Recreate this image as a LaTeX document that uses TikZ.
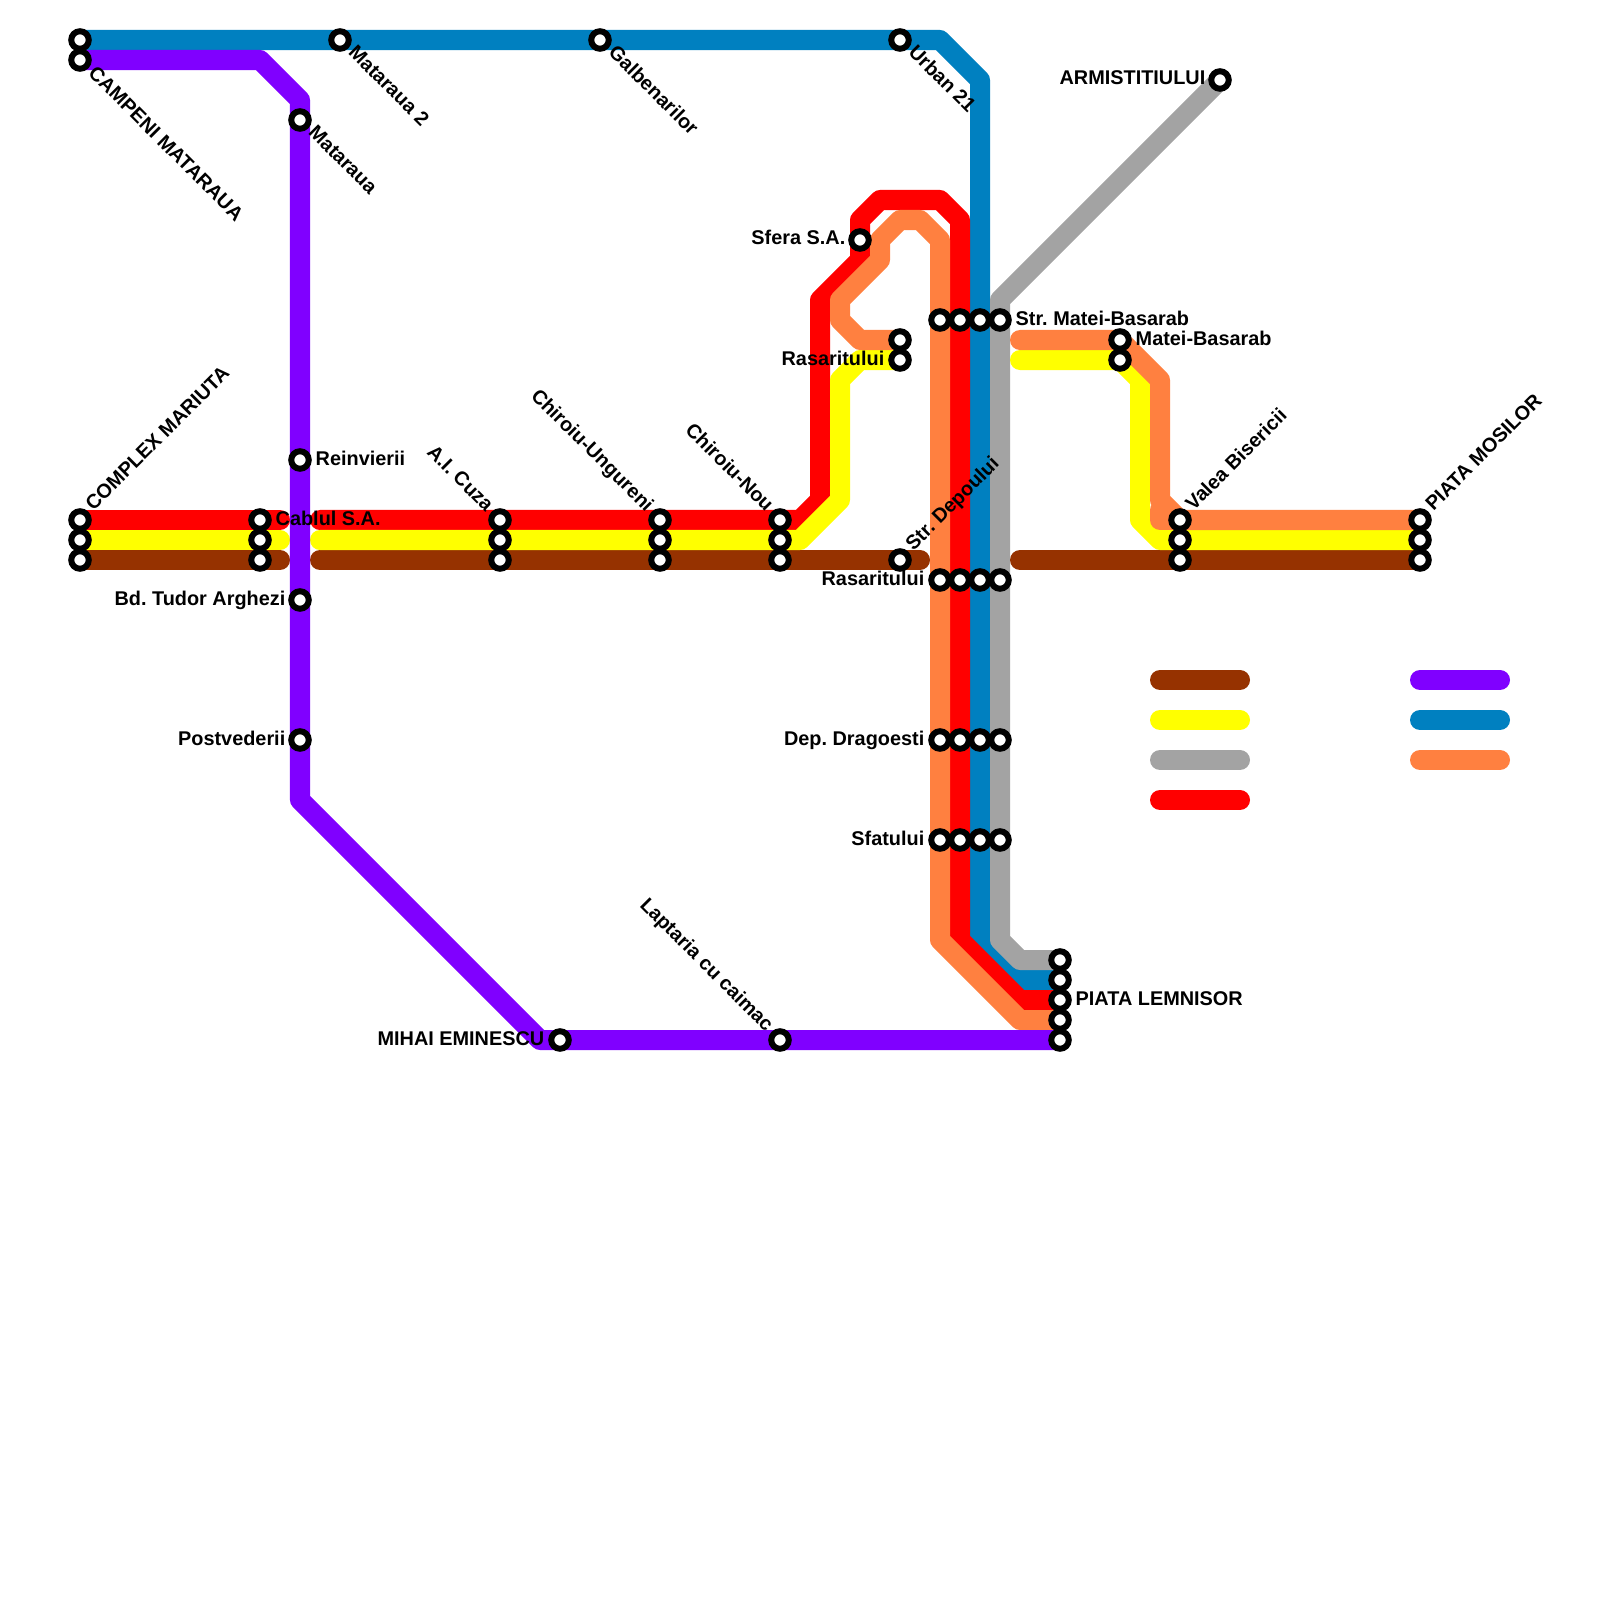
\documentclass[tikz,border=0pt]{standalone}
\usepackage{fontspec}
\setmainfont{Liberation Sans}
\usetikzlibrary{backgrounds}
\definecolor{mbrown}{HTML}{963200}
\definecolor{myellow}{HTML}{FFFF00}
\definecolor{mgray}{HTML}{A3A3A3}
\definecolor{mred}{HTML}{FF0000}
\definecolor{mpurple}{HTML}{8000FF}
\definecolor{mblue}{HTML}{0080C0}
\definecolor{morange}{HTML}{FF8040}
\begin{document}
\frenchspacing
\begin{tikzpicture}[
        x=0.01cm,y=-0.01cm,
        station/.style={circle,draw=black,fill=white,line width=0.6mm,inner sep=0pt,minimum size=1.75mm},
        metro/.style={line width=2mm,line cap=round,line join=round},
        stext/.style={font=\fontsize{5.65}{6}\selectfont\bfseries,inner sep=0pt},
        tright/.style={stext,anchor=base west},
        tleft/.style={stext,anchor=base east},
        tup/.style={stext,anchor=base west,rotate=45},
        tdown/.style={stext,anchor=base west,rotate=-45},
        tback/.style={stext,anchor=base east,rotate=-45},
    ]
    \useasboundingbox (0,0) rectangle (1600,1600);
    % stations
    \node [station] (s1) at (80,40) {};
    \node [station] (s2) at (80,60) {};
    \node [station] (s3) at (340,40) {};
    \node [station] (s4) at (600,40) {};
    \node [station] (s5) at (900,40) {};
    \node [station] (s6) at (300,120) {};
    \node [station] (s7) at (1220,80) {};
    \node [station] (s8) at (860,240) {};
    \node [station] (s9a) at (900,340) {};
    \node [station] (s9b) at (900,360) {};
    \node [station] (s10a) at (940,320) {};
    \node [station] (s10b) at (960,320) {};
    \node [station] (s10c) at (980,320) {};
    \node [station] (s10d) at (1000,320) {};
    \node [station] (s11a) at (1120,340) {};
    \node [station] (s11b) at (1120,360) {};
    \node [station] (s12) at (300,460) {};
    \node [station] (s13a) at (80,520) {};
    \node [station] (s13b) at (80,540) {};
    \node [station] (s13c) at (80,560) {};
    \node [station] (s14a) at (260,520) {};
    \node [station] (s14b) at (260,540) {};
    \node [station] (s14c) at (260,560) {};
    \node [station] (s15a) at (500,520) {};
    \node [station] (s15b) at (500,540) {};
    \node [station] (s15c) at (500,560) {};
    \node [station] (s16a) at (660,520) {};
    \node [station] (s16b) at (660,540) {};
    \node [station] (s16c) at (660,560) {};
    \node [station] (s17a) at (780,520) {};
    \node [station] (s17b) at (780,540) {};
    \node [station] (s17c) at (780,560) {};
    \node [station] (s18) at (900,560) {};
    \node [station] (s19a) at (1180,520) {};
    \node [station] (s19b) at (1180,540) {};
    \node [station] (s19c) at (1180,560) {};
    \node [station] (s20a) at (1420,520) {};
    \node [station] (s20b) at (1420,540) {};
    \node [station] (s20c) at (1420,560) {};
    \node [station] (s21a) at (940,580) {};
    \node [station] (s21b) at (960,580) {};
    \node [station] (s21c) at (980,580) {};
    \node [station] (s21d) at (1000,580) {};
    \node [station] (s22) at (300,600) {};
    \node [station] (s23) at (300,740) {};
    \node [station] (s24a) at (940,740) {};
    \node [station] (s24b) at (960,740) {};
    \node [station] (s24c) at (980,740) {};
    \node [station] (s24d) at (1000,740) {};
    \node [station] (s25a) at (940,840) {};
    \node [station] (s25b) at (960,840) {};
    \node [station] (s25c) at (980,840) {};
    \node [station] (s25d) at (1000,840) {};
    \node [station] (s26a) at (1060,960) {};
    \node [station] (s26b) at (1060,980) {};
    \node [station] (s26c) at (1060,1000) {};
    \node [station] (s26d) at (1060,1020) {};
    \node [station] (s26e) at (1060,1040) {};
    \node [station] (s27) at (560,1040) {};
    \node [station] (s28) at (780,1040) {};
    % free ends of the lines
    \coordinate (redend) at (280,520);
    \coordinate (redstart) at (320,520);
    \coordinate (yellowend) at (280,540);
    \coordinate (yellowstart) at (320,540);
    \coordinate (yellowright) at (1020,360);
    \coordinate (brownend) at (280,560);
    \coordinate (brownstart) at (320,560);
    \coordinate (brownmid) at (920,560);
    \coordinate (brownright) at (1020,560);
    \coordinate (orangeright) at (1020,340);
    % lines
    \begin{pgfonlayer}{background}
        \draw [metro,mblue] (s1.center) -- (940,40) -- (980,80) -- (980,940) -- (1020,980) -- (s26b.center);
        \draw [metro,mgray] (s7.center) -- (1000,300) -- (1000,940) -- (1020,960) -- (s26a.center);
        \draw [metro,mred] (s13a.center) -- (redend);
        \draw [metro,mred] (redstart) -- (800,520) -- (820,500) -- (820,300) -- (860,260) -- (860,220) -- (880,200) -- (940,200) -- (960,220) -- (960,940) -- (1020,1000) -- (s26c.center);
        \draw [metro,mbrown] (s13c.center) -- (brownend);
        \draw [metro,mbrown] (brownstart) -- (brownmid);
        \draw [metro,mbrown] (brownright) -- (s20c.center);
        \draw [metro,myellow] (s13b.center) -- (yellowend);
        \draw [metro,myellow] (yellowstart) -- (800,540) -- (840,500) -- (840,380) -- (860,360) -- (s9b.center);
        \draw [metro,myellow] (yellowright) -- (1120,360) -- (1140,380) -- (1140,520) -- (1160,540) -- (s20b.center);
        \draw [metro,morange] (s9a.center) -- (860,340) -- (840,320) -- (840,300) -- (880,260) -- (880,240) -- (900,220) -- (920,220) -- (940,240) -- (940,940) -- (1020,1020) -- (s26d.center);
        \draw [metro,morange] (orangeright) -- (1120,340) -- (1160,380) -- (1160,500) -- (1180,520) -- (s20a.center);
        \draw [metro,morange] (1160,510) -- (1160,520) -- (s19a.center);
        \draw [metro,mpurple] (s2.center) -- (260,60) -- (300,100) -- (300,800) -- (540,1040) -- (s26e.center);
        % key
        \draw [metro,mbrown] (1160,680) -- (1240,680);
        \draw [metro,myellow] (1160,720) -- (1240,720);
        \draw [metro,mgray] (1160,760) -- (1240,760);
        \draw [metro,mred] (1160,800) -- (1240,800);
        \draw [metro,mpurple] (1420,680) -- (1500,680);
        \draw [metro,mblue] (1420,720) -- (1500,720);
        \draw [metro,morange] (1420,760) -- (1500,760);
    \end{pgfonlayer}
    % labels
    \node [tdown] (t2) at (87,74) {CAMPENI MATARAUA};
    \node [tdown] (t3) at (347,53) {Mataraua 2};
    \node [tdown] (t4) at (607,53) {Galbenarilor};
    \node [tdown] (t5) at (907,53) {Urban 21};
    \node [tdown] (t6) at (307,133) {Mataraua};
    \node [tleft] (t7) at (1206,85) {ARMISTITIULUI};
    \node [tleft] (t8) at (846,245) {Sfera S.A.};
    \node [tleft] (t9) at (885,365) {Rasaritului};
    \node [tright] (t10) at (1015,325) {Str. Matei-Basarab};
    \node [tright] (t11) at (1135,345) {Matei-Basarab};
    \node [tright] (t12) at (315,465) {Reinvierii};
    \node [tup] (t13) at (93,512) {COMPLEX MARIUTA};
    \node [tright] (t14) at (275,525) {Cablul S.A.};
    \node [tback] (t15) at (486,513) {A.I. Cuza};
    \node [tback] (t16) at (646,513) {Chiroiu-Ungureni};
    \node [tback] (t17) at (766,513) {Chiroiu-Nou};
    \node [tup] (t18) at (913,552) {Str. Depoului};
    \node [tup] (t19) at (1193,512) {Valea Bisericii};
    \node [tup] (t20) at (1433,512) {PIATA MOSILOR};
    \node [tleft] (t21) at (925,585) {Rasaritului};
    \node [tleft] (t22) at (286,605) {Bd. Tudor Arghezi};
    \node [tleft] (t23) at (286,745) {Postvederii};
    \node [tleft] (t24) at (925,745) {Dep. Dragoesti};
    \node [tleft] (t25) at (925,845) {Sfatului};
    \node [tright] (t26) at (1075,1005) {PIATA LEMNISOR};
    \node [tleft] (t27) at (545,1045) {MIHAI EMINESCU};
    \node [tback] (t28) at (766,1033) {Laptaria cu caimac};
\end{tikzpicture}
\end{document}
